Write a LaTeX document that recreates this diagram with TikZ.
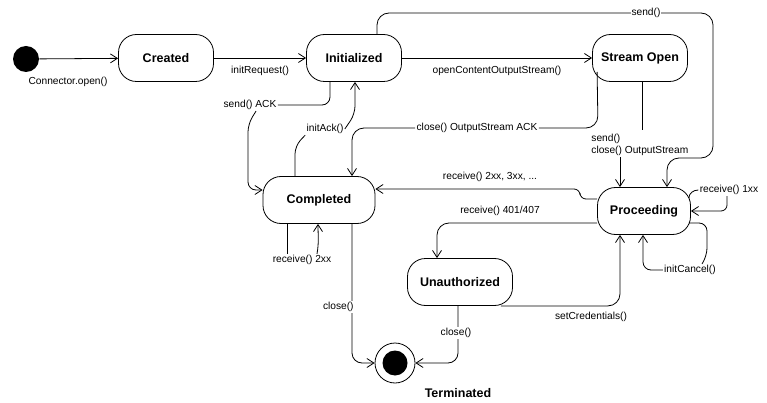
\documentclass[tikz,border=0pt]{standalone}
\usepackage{fontspec}
\setmainfont{Liberation Sans}
\usetikzlibrary{arrows.meta}

\begin{document}
\begin{tikzpicture}[x=1pt, y=-1pt, line width=0.8pt,
		state/.style={draw, rounded corners=18pt, minimum width=95pt, minimum height=47pt, inner sep=0pt, font=\fontsize{12.5}{15}\selectfont\bfseries},
		lbl/.style={inner sep=1pt, font=\fontsize{10.2}{12.5}\selectfont},
		lblw/.style={lbl, fill=white},
		trans/.style={-{Straight Barb[length=7pt, width=9pt]}}]
	\useasboundingbox (0,0) rectangle (767,403);
	% states
	\node[circle, fill, minimum size=26pt, inner sep=0pt] (start) at (26,59) {};
	\node[state] (created) at (166,58) {Created};
	\node[state] (init) at (354,58) {Initialized};
	\node[state] (sopen) at (640,58) {Stream Open};
	\node[state, minimum width=112pt] (compl) at (319,200) {Completed};
	\node[state, minimum width=93pt] (proc) at (644,211) {Proceeding};
	\node[state, minimum width=105pt] (unauth) at (460,282) {Unauthorized};
	\node[circle, draw, minimum size=40pt, inner sep=0pt] (fin) at (395,363) {};
	\node[circle, fill, minimum size=25pt, inner sep=0pt] (finc) at (fin) {};
	\node[font=\fontsize{12.5}{15}\selectfont\bfseries] (term) at (458,393) {Terminated};
	% labels
	\node[lbl] (lopen) at (68,82) {Connector.open()};
	\node[lbl] (lreq) at (260,71) {initRequest()};
	\node[lbl] (lcos) at (497,71) {openContentOutputStream()};
	\node[lbl] (lack) at (250,105) {send() ACK};
	\node[lbl] (linit) at (325,129) {initAck()};
	\node[lbl] (lclose) at (477,128) {close() OutputStream ACK};
	\node[lbl, align=left, anchor=west] (lsc) at (590,145) {send()\\close() OutputStream};
	\node[lbl] (l23) at (490,177) {receive() 2xx, 3xx, ...};
	\node[lbl] (l401) at (500,211) {receive() 401/407};
	\node[lbl] (lcred) at (591,317) {setCredentials()};
	\node[lbl] (l1xx) at (729,190) {receive() 1xx};
	\node[lbl] (lcancel) at (690,270) {initCancel()};
	\node[lbl] (l2xx) at (302,260) {receive() 2xx};
	% transitions
	\draw[trans] (start) -- (created);
	\draw[trans] (created) -- (init);
	\draw[trans] (init) -- (sopen);
	\draw[trans, rounded corners=12pt] ([xshift=23pt]init.north) -- (377,13) -- (713,13) -- (713,158) -| ([xshift=23pt]proc.north);
	\node[lblw] (lsend) at (646,13) {send()};
	\draw[rounded corners=8pt] ([xshift=-24pt]init.south) |- (lack.east);
	\draw[trans, rounded corners=8pt] ([xshift=6pt]lack.south) -- (248,124) -- (248,190) -- ([yshift=10pt]compl.west);
	\draw[rounded corners=8pt] ([xshift=-24pt]compl.north) -- (295,146) -- (linit.south west);
	\draw[trans, rounded corners=8pt] (linit.east) -- (355,114) -- ([xshift=1pt]init.south);
	\draw[rounded corners=12pt] ([shift={(5pt,-14pt)}]sopen.west) -- (598,128) -- (lclose.east);
	\draw[trans, rounded corners=12pt] (lclose.west) -- (352,128) -- ([xshift=33pt]compl.north);
	\draw ([xshift=2pt]sopen.south) -- ++(0,48);
	\draw[trans] ([xshift=-24pt]proc.north |- lsc.south) -- ([xshift=-24pt]proc.north);
	\draw[trans, rounded corners=6pt] ([yshift=12pt]proc.west) -- (580,199) -- (580,189) -- ([yshift=11pt]compl.east);
	\draw[trans, rounded corners=12pt] ([yshift=-12pt]proc.west) -| ([xshift=-23pt]unauth.north);
	\draw[trans, rounded corners=12pt] ([xshift=-12pt]unauth.south east) -| ([xshift=-24pt]proc.south);
	\draw ([shift={(-2pt,13pt)}]proc.east) to[out=90, in=180] (l1xx.west);
	\draw[trans, rounded corners=6pt] ([xshift=-2pt]l1xx.south) -- (727,211) -- (proc.east);
	\draw[rounded corners=8pt] ([shift={(-2pt,-12pt)}]proc.east) -- (707,223) -- (707,256) -- ([xshift=12pt]lcancel.north);
	\draw[trans, rounded corners=8pt] (lcancel.west) -- (643,270) -- ([xshift=-1pt]proc.south);
	\draw ([xshift=-32pt]compl.south) -- ([xshift=-15pt]l2xx.north);
	\draw[trans] ([xshift=15pt]l2xx.north) to[out=80, in=-90] ([xshift=-1pt]compl.south);
	\draw[trans, rounded corners=10pt] ([xshift=33pt]compl.south) -- (352,363) -- (fin.west);
	\node[lblw, anchor=east] (lcl1) at (355,307) {close()};
	\draw[trans, rounded corners=10pt] ([xshift=-2pt]unauth.south) -- (458,363) -- (fin.east);
	\node[lblw] (lcl2) at (456,333) {close()};
\end{tikzpicture}
\end{document}
